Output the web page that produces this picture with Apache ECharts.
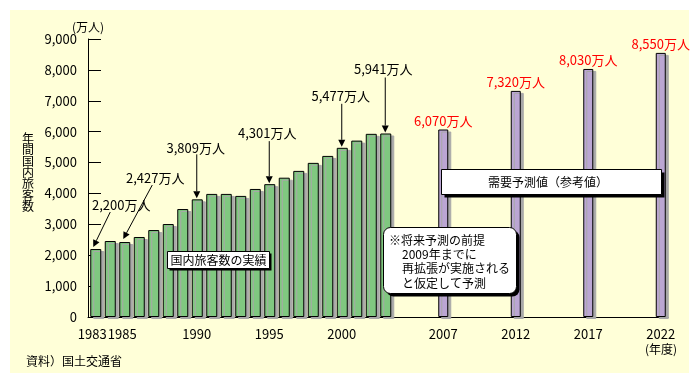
<!DOCTYPE html>
<html><head><meta charset="utf-8">
<script src="https://cdn.jsdelivr.net/npm/echarts@6/dist/echarts.min.js"></script>
<style>html,body{margin:0;padding:0;background:#fff}#c{width:700px;height:383px}</style>
</head><body><div id="c"></div>
<script>
const allYears = [];
for (let y = 1983; y <= 2022; y++) allYears.push(String(y));
const actualYears = ['1983','1984','1985','1986','1987','1988','1989','1990','1991','1992','1993','1994','1995','1996','1997','1998','1999','2000','2001','2002','2003'];
const actualValues = [2200,2460,2427,2590,2815,3010,3495,3809,3985,3985,3920,4145,4301,4510,4730,4990,5215,5477,5710,5930,5941];
const forecastYears = ['2007','2012','2017','2022'];
const forecastValues = [6070,7320,8030,8550];
const labelYears = ['1983','1985','1990','1995','2000','2007','2012','2017','2022'];
const calloutYears = ['1983','1985','1990','1995','2000','2003'];
const yTicks = [0,1000,2000,3000,4000,5000,6000,7000,8000,9000];

const FONT = '"Noto Sans CJK JP", "Noto Sans", sans-serif';
const fmt = v => String(v).replace(/\B(?=(\d{3})+(?!\d))/g, ',');

const actualData = allYears.map(y => { const i = actualYears.indexOf(y); return i >= 0 ? actualValues[i] : null; });
const forecastData = allYears.map(y => { const i = forecastYears.indexOf(y); return i >= 0 ? forecastValues[i] : null; });

const chart = echarts.init(document.getElementById('c'));
chart.setOption({
  animation: false,
  backgroundColor: '#ffffff',
  grid: { left: 88, right: 32, top: 39, bottom: 66 },
  xAxis: {
    type: 'category', data: allYears, boundaryGap: true,
    axisLine: { lineStyle: { color: '#000', width: 1 } },
    axisTick: { show: false },
    axisLabel: {
      color: '#000', fontSize: 13, fontFamily: FONT, margin: 11,
      interval: (i, v) => labelYears.indexOf(v) >= 0,
      formatter: v => v === '1983' ? '{a|' + v + '}' : (v === '1985' ? '{b|' + v + '}' : v),
      rich: {
        a: { color: '#000', fontSize: 13, fontFamily: FONT, padding: [0, 6, 0, 0] },
        b: { color: '#000', fontSize: 13, fontFamily: FONT, padding: [0, 4, 0, 0] }
      }
    }
  },
  yAxis: {
    type: 'value', min: yTicks[0], max: yTicks[yTicks.length - 1], interval: 1000,
    axisLine: { show: true, lineStyle: { color: '#000', width: 1 } },
    axisTick: { show: true, inside: true, length: 13, lineStyle: { color: '#000' } },
    splitLine: { show: false },
    axisLabel: { color: '#000', fontSize: 13, fontFamily: FONT, margin: 11, formatter: v => fmt(v) }
  },
  series: [
    {
      type: 'bar', data: actualData, barWidth: 11, barGap: '-100%', z: 3,
      itemStyle: { color: '#80c880', borderColor: '#000', borderWidth: 1,
        shadowColor: '#a8a8a8', shadowOffsetX: 3, shadowOffsetY: 2, shadowBlur: 0 }
    },
    {
      type: 'bar', data: forecastData, barWidth: 10, barGap: '-100%', z: 3,
      itemStyle: { color: '#bba6d3', borderColor: '#000', borderWidth: 1,
        shadowColor: '#a8a8a8', shadowOffsetX: 3, shadowOffsetY: 2, shadowBlur: 0 },
      label: { show: true, position: 'top', distance: 2, color: '#ff0000', fontSize: 13,
        fontFamily: FONT, formatter: p => fmt(p.value) + '万人' }
    }
  ]
});

// callout geometry relative to bar top (px offsets)
const calloutGeom = {
  '1983': { tip: [-2, -2], start: [15, -37], label: [26, -44] },
  '1985': { tip: [-1, -3], start: [28, -57], label: [31, -64] },
  '1990': { tip: [0, -1], start: [0, -45], label: [-1, -51] },
  '1995': { tip: [0, -1], start: [0, -43], label: [-2, -51] },
  '2000': { tip: [0, -1], start: [0, -44], label: [-1, -52] },
  '2003': { tip: [0, -1], start: [0, -56], label: [-2, -64] }
};

const els = [];
els.push({ type: 'rect', z: -10, shape: { x: 10, y: 10, width: 679, height: 363 }, style: { fill: '#ffffd8' }, silent: true });

calloutYears.forEach(y => {
  const v = actualValues[actualYears.indexOf(y)];
  const p = chart.convertToPixel({ xAxisIndex: 0, yAxisIndex: 0 }, [y, v]);
  const g = calloutGeom[y];
  const tip = [p[0] + g.tip[0], p[1] + g.tip[1]];
  const st = [p[0] + g.start[0], p[1] + g.start[1]];
  const dx = tip[0] - st[0], dy = tip[1] - st[1];
  const L = Math.sqrt(dx * dx + dy * dy), ux = dx / L, uy = dy / L;
  const hl = 7, hw = 3.5;
  const base = [tip[0] - ux * hl, tip[1] - uy * hl];
  els.push({ type: 'line', z: 50, shape: { x1: st[0], y1: st[1], x2: base[0], y2: base[1] }, style: { stroke: '#000', lineWidth: 1 } });
  els.push({ type: 'polygon', z: 50, shape: { points: [tip, [base[0] - uy * hw, base[1] + ux * hw], [base[0] + uy * hw, base[1] - ux * hw]] }, style: { fill: '#000' } });
  els.push({ type: 'text', z: 50, x: p[0] + g.label[0], y: p[1] + g.label[1],
    style: { text: fmt(v) + '万人', fill: '#000', font: '13px ' + FONT, textAlign: 'center', textVerticalAlign: 'middle' } });
});

function box(x, y, w, h, r, sh) {
  els.push({ type: 'rect', z: 60, shape: { x: x + sh, y: y + sh, width: w, height: h, r: r }, style: { fill: '#000' } });
  els.push({ type: 'rect', z: 61, shape: { x: x, y: y, width: w, height: h, r: r }, style: { fill: '#fff', stroke: '#000', lineWidth: 1 } });
}
box(167.5, 251.5, 102, 17, 0, 2);
els.push({ type: 'text', z: 62, x: 218.5, y: 260, style: { text: '国内旅客数の実績', fill: '#000', font: '12px ' + FONT, textAlign: 'center', textVerticalAlign: 'middle' } });
box(441.5, 169.5, 220, 25, 0, 3);
els.push({ type: 'text', z: 62, x: 548, y: 182, style: { text: '需要予測値（参考値）', fill: '#000', font: '12px ' + FONT, textAlign: 'center', textVerticalAlign: 'middle' } });
box(383.5, 227.5, 133, 66, 7, 3);
const noteLines = ['※将来予測の前提', '2009年までに', '再拡張が実施される', 'と仮定して予測'];
noteLines.forEach((t, i) => {
  els.push({ type: 'text', z: 62, x: i === 0 ? 389 : 402, y: 240.5 + 14.2 * i, style: { text: t, fill: '#000', font: '12px ' + FONT, textAlign: 'left', textVerticalAlign: 'middle' } });
});

els.push({ type: 'text', z: 50, x: 88, y: 27, style: { text: '(万人)', fill: '#000', font: '12px ' + FONT, textAlign: 'center', textVerticalAlign: 'middle' } });
els.push({ type: 'text', z: 50, x: 661, y: 349, style: { text: '(年度)', fill: '#000', font: '12px ' + FONT, textAlign: 'center', textVerticalAlign: 'middle' } });
els.push({ type: 'text', z: 50, x: 26, y: 361, style: { text: '資料）国土交通省', fill: '#000', font: '12px ' + FONT, textAlign: 'left', textVerticalAlign: 'middle' } });
els.push({ type: 'text', z: 50, x: 28, y: 172.5, style: { text: '年間国内旅客数'.split('').join('\n'), fill: '#000', font: '12px ' + FONT, lineHeight: 11.4, textAlign: 'center', textVerticalAlign: 'middle' } });

chart.setOption({ graphic: { elements: els } });
</script></body></html>
